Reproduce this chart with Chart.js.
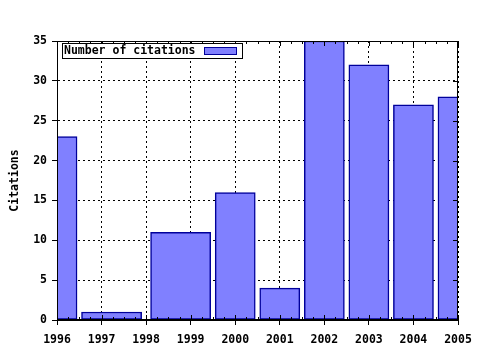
<!DOCTYPE html>
<html>
<head>
<meta charset="utf-8">
<script src="https://cdn.jsdelivr.net/npm/chart.js@4.4.0/dist/chart.umd.min.js"></script>
<style>
  html, body { margin: 0; padding: 0; background: #fff; }
  #wrap { width: 480px; height: 350px; }
</style>
</head>
<body>
<div id="wrap"><canvas id="citeChart" width="480" height="350"></canvas></div>
<script>
// citations per year (no point for 1998)
const years = [1996, 1997, 1999, 2000, 2001, 2002, 2003, 2004, 2005];
const citations = [23, 1, 11, 16, 4, 35, 32, 27, 28];
const seriesLabel = 'Number of citations';
const yTitle = 'Citations';
const xRange = [1996, 2005];
const yRange = [0, 35];

const monoFont = "'DejaVu Sans Mono', monospace";
const barFill = 'rgb(128,128,255)';
const barEdge = '#00009a';

// gnuplot-like frame, mirrored/minor ticks and the key box inside the plot
const gnuFrame = {
    id: 'gnuFrame',
    afterDatasetsDraw(chart) {
        const { ctx, chartArea: a, scales: { x, y } } = chart;
        ctx.save();
        ctx.strokeStyle = '#000';
        ctx.lineWidth = 1;
        ctx.beginPath();
        for (let v = xRange[0]; v <= xRange[1]; v += 0.25) {
            const px = Math.round(x.getPixelForValue(v)) + 0.5;
            const len = Number.isInteger(v) ? 5 : 3;
            ctx.moveTo(px, a.top); ctx.lineTo(px, a.top + len);
            ctx.moveTo(px, a.bottom); ctx.lineTo(px, a.bottom - len);
        }
        for (let v = yRange[0]; v <= yRange[1]; v += 5) {
            const py = Math.round(y.getPixelForValue(v)) + 0.5;
            ctx.moveTo(a.right, py); ctx.lineTo(a.right - 5, py);
        }
        ctx.stroke();
        ctx.strokeRect(Math.round(a.left) + 0.5, Math.round(a.top) + 0.5,
            Math.round(a.right - a.left) - 1, Math.round(a.bottom - a.top) - 1);

        // key
        const kx = Math.round(a.left) + 5, ky = Math.round(a.top) + 2;
        ctx.fillStyle = '#fff';
        ctx.fillRect(kx, ky, 180, 15);
        ctx.strokeRect(kx + 0.5, ky + 0.5, 180, 15);
        ctx.fillStyle = '#000';
        ctx.font = 'bold 11.5px ' + monoFont;
        ctx.textBaseline = 'middle';
        ctx.fillText(seriesLabel, kx + 2, ky + 8.5);
        ctx.fillStyle = barFill;
        ctx.fillRect(kx + 142, ky + 4, 32, 7);
        ctx.strokeStyle = barEdge;
        ctx.strokeRect(kx + 142.5, ky + 4.5, 32, 7);
        ctx.restore();
    }
};

const ctx = document.getElementById('citeChart').getContext('2d');
const citeChart = new Chart(ctx, {
    type: 'bar',
    data: {
        datasets: [{
            label: seriesLabel,
            data: years.map((yr, i) => ({ x: yr, y: citations[i] })),
            backgroundColor: barFill,
            borderColor: barEdge,
            borderWidth: 1.5,
            borderSkipped: false,
            barThickness: 'flex',
            categoryPercentage: 0.9,
            barPercentage: 1.0
        }]
    },
    options: {
        responsive: false,
        animation: false,
        layout: { padding: { left: 0, right: 22, top: 41, bottom: 0 } },
        plugins: {
            legend: { display: false },
            tooltip: { enabled: false }
        },
        scales: {
            x: {
                type: 'linear',
                min: xRange[0],
                max: xRange[1],
                offset: false,
                grid: {
                    offset: false,
                    color: '#000',
                    lineWidth: 1,
                    tickLength: 5,
                    tickBorderDash: [],
                    drawTicks: true
                },
                border: { display: true, color: '#000', dash: [2, 3] },
                ticks: {
                    stepSize: 1,
                    color: '#000',
                    padding: 8,
                    maxRotation: 0,
                    autoSkip: false,
                    font: { family: monoFont, size: 11.5, weight: 'bold' },
                    callback: v => String(v)
                },
                afterFit: s => { s.height = 30; }
            },
            y: {
                min: yRange[0],
                max: yRange[1],
                grid: {
                    color: '#000',
                    lineWidth: 1,
                    tickLength: 5,
                    drawTicks: true
                },
                border: { display: true, color: '#000', dash: [2, 3] },
                ticks: {
                    stepSize: 5,
                    color: '#000',
                    padding: 5,
                    font: { family: monoFont, size: 11.5, weight: 'bold' }
                },
                title: {
                    display: true,
                    text: yTitle,
                    color: '#000',
                    padding: { top: 8, bottom: 4 },
                    font: { family: monoFont, size: 11.5, weight: 'bold' }
                },
                afterFit: s => { s.width = 57; }
            }
        }
    },
    plugins: [gnuFrame]
});
</script>
</body>
</html>
